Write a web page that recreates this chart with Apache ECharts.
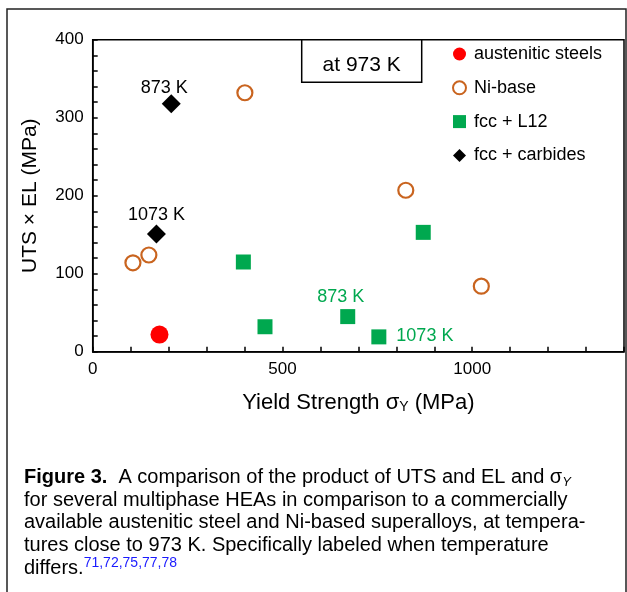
<!DOCTYPE html>
<html>
<head>
<meta charset="utf-8">
<script src="https://cdn.jsdelivr.net/npm/echarts@6/dist/echarts.min.js"></script>
<style>
html,body{margin:0;padding:0;background:#fff;}
#chart{width:627px;height:592px;}
</style>
</head>
<body>
<div id="chart"></div>
<script>
// ---- data (x: yield strength MPa, y: UTS x EL MPa) ----
var seriesNames = ['austenitic steels', 'Ni-base', 'fcc + L12', 'fcc + carbides'];
var austeniticSteels = [[176, 22]];
var niBase = [[401, 332], [106, 114], [148, 124], [825, 207], [1024, 84]];
var fccL12 = [[397, 115], [454, 32], [871, 153], [672, 45], [754, 19]];
var fccCarbides = [[207, 318], [168, 151]];
// temperature labels attached to points: [seriesIndex, pointIndex, text]
var pointLabels = [[3, 0, '873 K'], [3, 1, '1073 K'], [2, 3, '873 K'], [2, 4, '1073 K']];
var xTickLabels = [0, 500, 1000];
var yTickLabels = [0, 100, 200, 300, 400];
var boxText = 'at 973 K';
var captionLines = [
  '{b|Figure 3.}{t|  A comparison of the product of UTS and EL and σ}{sub|Y}',
  '{t|for several multiphase HEAs in comparison to a commercially}',
  '{t|available austenitic steel and Ni-based superalloys, at tempera-}',
  '{t|tures close to 973 K. Specifically labeled when temperature}',
  '{t|differs.}{sup|71,72,75,77,78}'
];

var FONT = '"Liberation Sans", Arial, Helvetica, sans-serif';
var RED = '#ff0000', ORANGE = '#c9641f', GREEN = '#00a84f', BLACK = '#000';

var labelStyles = {
  '3-0': {position: 'top', distance: 0, offset: [-7, 3], color: BLACK},
  '3-1': {position: 'top', distance: 0, offset: [0, 0], color: BLACK},
  '2-3': {position: 'top', distance: 0, offset: [-7, -3], color: GREEN},
  '2-4': {position: 'right', distance: 10, offset: [0, -1], color: GREEN}
};

function withLabels(si, arr) {
  return arr.map(function (p, i) {
    var found = null;
    pointLabels.forEach(function (l) { if (l[0] === si && l[1] === i) found = l; });
    if (!found) return {value: p};
    var st = labelStyles[si + '-' + i];
    return {value: p, label: {show: true, formatter: found[2], position: st.position, distance: st.distance,
      offset: st.offset, color: st.color, fontSize: 18, fontFamily: FONT}};
  });
}

var chart = echarts.init(document.getElementById('chart'), null, {renderer: 'canvas'});

var graphics = [
  {type: 'rect', z: 50, shape: {x: 7, y: 9, width: 619, height: 640}, style: {fill: 'none', stroke: '#222', lineWidth: 1.5}, silent: true},
  {type: 'rect', z: 50, shape: {x: 301.7, y: 39.7, width: 120, height: 42.5}, style: {fill: '#fff', stroke: '#000', lineWidth: 1.5}},
  {type: 'text', z: 51, x: 361.7, y: 65, style: {text: boxText, fill: '#000', font: '21px ' + FONT, textAlign: 'center', textVerticalAlign: 'middle'}}
];
var capY = [477, 500, 522.5, 545, 568];
captionLines.forEach(function (line, i) {
  graphics.push({type: 'text', z: 51, x: 24, y: capY[i], style: {
    text: line, textVerticalAlign: 'middle', textAlign: 'left',
    rich: {
      b: {fontSize: 20, fontWeight: 'bold', fontFamily: FONT, fill: '#000', lineHeight: 24},
      t: {fontSize: 20, fontFamily: FONT, fill: '#000', lineHeight: 24},
      sub: {fontSize: 13, fontStyle: 'italic', fontFamily: FONT, fill: '#000', lineHeight: 24, verticalAlign: 'bottom'},
      sup: {fontSize: 14, fontFamily: FONT, fill: '#1a1aff', lineHeight: 24, verticalAlign: 'top'}
    }
  }});
});

var option = {
  animation: false,
  backgroundColor: '#fff',
  textStyle: {fontFamily: FONT},
  grid: {left: 92.7, top: 39.7, width: 534.2, height: 312, show: true, borderColor: '#000', borderWidth: 1.5, backgroundColor: 'transparent'},
  legend: {
    orient: 'vertical', left: 452, top: 45, padding: 0, itemGap: 15.8, itemWidth: 13, itemHeight: 13,
    textStyle: {fontSize: 18, fontFamily: FONT, color: '#000', padding: [0, 0, 0, 3]},
    data: [
      {name: seriesNames[0], icon: 'circle'},
      {name: seriesNames[1], icon: 'circle'},
      {name: seriesNames[2], icon: 'rect'},
      {name: seriesNames[3], icon: 'diamond'}
    ]
  },
  xAxis: {
    type: 'value', min: 0, max: 1400, interval: 100,
    name: '{a|Yield Strength σ}{s|Y}{a| (MPa)}', nameLocation: 'middle', nameGap: 40,
    nameTextStyle: {rich: {a: {fontSize: 22, fontFamily: FONT, color: '#000'}, s: {fontSize: 14, fontFamily: FONT, color: '#000', verticalAlign: 'bottom', padding: [7, 0, 0, 0]}}},
    axisLine: {show: true, onZero: false, lineStyle: {color: '#000', width: 1.5}},
    axisTick: {show: true, inside: true, length: 5, lineStyle: {color: '#000', width: 1.5}},
    axisLabel: {fontSize: 17, fontFamily: FONT, color: '#000', margin: 9, showMaxLabel: true,
      formatter: function (v) { return xTickLabels.indexOf(v) >= 0 ? String(v) : ''; }},
    splitLine: {show: false}
  },
  yAxis: {
    type: 'value', min: 0, max: 400, interval: 20,
    name: 'UTS × EL (MPa)', nameLocation: 'middle', nameGap: 52,
    nameTextStyle: {fontSize: 21, fontFamily: FONT, color: '#000'},
    axisLine: {show: true, onZero: false, lineStyle: {color: '#000', width: 1.5}},
    axisTick: {show: true, inside: true, length: 5, lineStyle: {color: '#000', width: 1.5}},
    axisLabel: {fontSize: 17, fontFamily: FONT, color: '#000', margin: 9,
      formatter: function (v) { return yTickLabels.indexOf(v) >= 0 ? String(v) : ''; }},
    splitLine: {show: false}
  },
  series: [
    {name: seriesNames[0], type: 'scatter', symbol: 'circle', symbolSize: 18, z: 3,
      itemStyle: {color: RED, opacity: 1}, data: withLabels(0, austeniticSteels)},
    {name: seriesNames[1], type: 'scatter', symbol: 'circle', symbolSize: 15, z: 3,
      itemStyle: {color: '#fff', borderColor: ORANGE, borderWidth: 2.2, opacity: 1}, data: withLabels(1, niBase)},
    {name: seriesNames[2], type: 'scatter', symbol: 'rect', symbolSize: 15, z: 3,
      itemStyle: {color: GREEN, opacity: 1}, data: withLabels(2, fccL12)},
    {name: seriesNames[3], type: 'scatter', symbol: 'diamond', symbolSize: 19, z: 3,
      itemStyle: {color: BLACK, opacity: 1}, data: withLabels(3, fccCarbides)}
  ],
  graphic: graphics
};
chart.setOption(option);
</script>
</body>
</html>
